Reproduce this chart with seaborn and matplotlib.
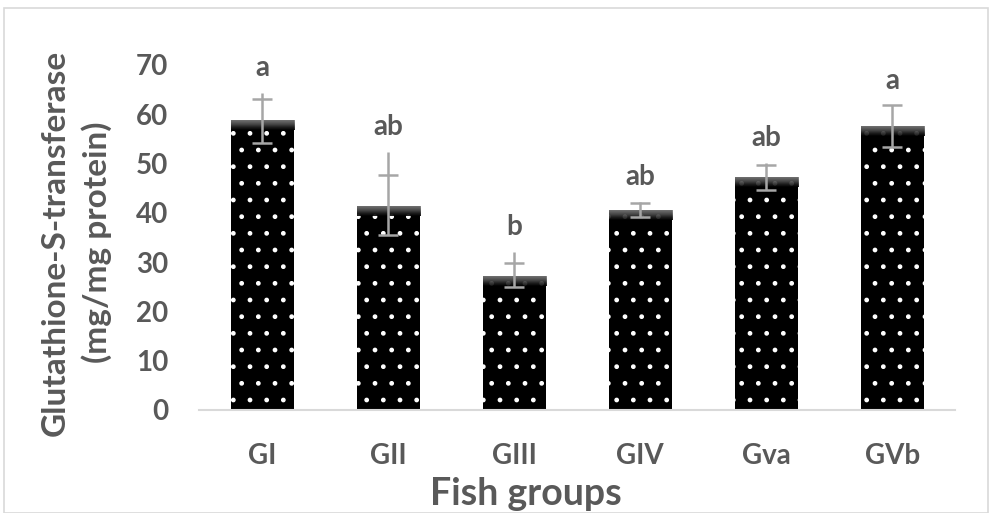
import matplotlib
matplotlib.use("Agg")
import matplotlib.pyplot as plt
from matplotlib.patches import Rectangle
import numpy as np
import seaborn as sns
import pandas as pd

sns.set_style("white")
plt.rcParams['font.family'] = ['Lato', 'DejaVu Sans']
plt.rcParams['hatch.linewidth'] = 1.0

groups = ['GI', 'GII', 'GIII', 'GIV', 'Gva', 'GVb']
means = [58.8, 41.4, 27.2, 40.6, 47.3, 57.6]
err_low = [54.2, 35.5, 24.9, 39.1, 44.7, 53.4]
err_high = [63.1, 47.7, 29.8, 42.0, 49.8, 61.8]
line_top = [64.3, 52.3, 32.0, 42.2, 50.1, 61.8]
letters = ['a', 'ab', 'b', 'ab', 'ab', 'a']

grey = '#595959'
df = pd.DataFrame({'group': groups, 'value': means})

fig = plt.figure(figsize=(9.9, 5.13), dpi=100)
ax = fig.add_axes([0.201, 0.2008, 0.764, 0.6725])

sns.barplot(data=df, x='group', y='value', color='black', width=0.5,
            saturation=1, ax=ax)

# glossy top band on each bar
grad = np.linspace(0, 1, 50).reshape(-1, 1)
for p in list(ax.patches):
    p.set_edgecolor('white')
    p.set_hatch('.')
    p.set_linewidth(0)
    x0, w, h = p.get_x(), p.get_width(), p.get_height()
    ax.imshow(grad, cmap='Greys_r', vmin=0, vmax=2.4, aspect='auto',
              extent=(x0, x0 + w, h - 2.0, h), origin='lower', zorder=2.5,
              interpolation='bilinear', alpha=0.9)

xs = range(len(groups))
lower = [m - l for m, l in zip(means, err_low)]
upper = [h - m for m, h in zip(means, err_high)]
ax.errorbar(xs, means, yerr=[lower, upper], fmt='none', ecolor='#a6a6a6',
            elinewidth=1.8, capsize=7, capthick=1.8, zorder=3)
ax.vlines(xs, err_high, line_top, color='#a6a6a6', lw=1.8, zorder=3)
for x, t, lab in zip(xs, line_top, letters):
    ax.text(x, t + 2.4, lab, ha='center', va='bottom', fontsize=20,
            fontweight='bold', color=grey)

ax.set_ylim(0, 70)
ax.set_xlim(-0.5, len(groups) - 0.5)
ax.set_yticks(range(0, 71, 10))
for s in ['top', 'right', 'left']:
    ax.spines[s].set_visible(False)
ax.spines['bottom'].set_color('#d9d9d9')
ax.spines['bottom'].set_linewidth(1.5)
ax.tick_params(axis='y', length=0, pad=22, labelsize=20, labelcolor=grey)
ax.tick_params(axis='x', length=0, pad=24, labelsize=20, labelcolor=grey)
for lab in ax.get_xticklabels() + ax.get_yticklabels():
    lab.set_fontweight('bold')

ax.set_xlabel('Fish groups', fontsize=27, fontweight='bold', color=grey)
ax.xaxis.set_label_coords(0.432, -0.195)
ax.set_ylabel('Glutathione-S-transferase\n(mg/mg protein)', fontsize=24,
              fontweight='bold', color=grey, linespacing=1.45)
ax.yaxis.set_label_coords(-0.115, 0.485)

fig.patches.append(Rectangle((0.004, 0.0), 0.994, 0.984, transform=fig.transFigure,
                             fill=False, edgecolor='#d9d9d9', lw=1.2))

fig.savefig('out.png', dpi=100)
